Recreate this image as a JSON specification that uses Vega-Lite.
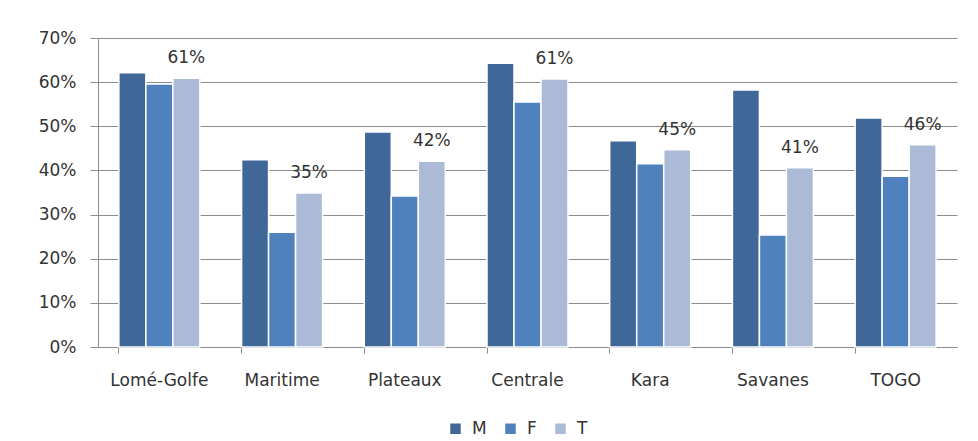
{
  "$schema": "https://vega.github.io/schema/vega-lite/v6.json",
  "autosize": {"type": "none"},
  "width": 859,
  "height": 309,
  "padding": {"left": 98, "top": 38, "right": 21, "bottom": 94},
  "background": "white",
  "config": {
    "font": "DejaVu Sans",
    "view": {"stroke": null},
    "axis": {"labelFont": "DejaVu Sans", "labelFontSize": 17, "labelColor": "#333333", "labelOverlap": false}
  },
  "data": {
    "values": [
      {"region": "Lomé-Golfe", "sex": "M", "value": 0.621},
      {"region": "Lomé-Golfe", "sex": "F", "value": 0.596},
      {"region": "Lomé-Golfe", "sex": "T", "value": 0.609},
      {"region": "Maritime", "sex": "M", "value": 0.424},
      {"region": "Maritime", "sex": "F", "value": 0.26},
      {"region": "Maritime", "sex": "T", "value": 0.349},
      {"region": "Plateaux", "sex": "M", "value": 0.487},
      {"region": "Plateaux", "sex": "F", "value": 0.342},
      {"region": "Plateaux", "sex": "T", "value": 0.421},
      {"region": "Centrale", "sex": "M", "value": 0.643},
      {"region": "Centrale", "sex": "F", "value": 0.555},
      {"region": "Centrale", "sex": "T", "value": 0.607},
      {"region": "Kara", "sex": "M", "value": 0.467},
      {"region": "Kara", "sex": "F", "value": 0.415},
      {"region": "Kara", "sex": "T", "value": 0.447},
      {"region": "Savanes", "sex": "M", "value": 0.582},
      {"region": "Savanes", "sex": "F", "value": 0.254},
      {"region": "Savanes", "sex": "T", "value": 0.406},
      {"region": "TOGO", "sex": "M", "value": 0.519},
      {"region": "TOGO", "sex": "F", "value": 0.387},
      {"region": "TOGO", "sex": "T", "value": 0.458}
    ]
  },
  "encoding": {
    "x": {
      "field": "region", "type": "nominal", "sort": null, "title": null,
      "scale": {"paddingInner": 0.34, "paddingOuter": 0.17},
      "axis": {"labelAngle": 0, "bandPosition": 0, "tickSize": 6, "tickColor": "#8c8c8c", "domainColor": "#8c8c8c", "labelPadding": 19, "grid": false}
    },
    "xOffset": {"field": "sex", "type": "nominal", "scale": {"domain": ["M", "F", "T"], "paddingInner": 0}},
    "y": {
      "field": "value", "type": "quantitative", "title": null,
      "scale": {"domain": [0, 0.7], "nice": false},
      "axis": {"format": ".0%", "values": [0, 0.1, 0.2, 0.3, 0.4, 0.5, 0.6, 0.7], "tickSize": 8, "tickColor": "#8c8c8c", "domainColor": "#8c8c8c", "gridColor": "#8c8c8c", "gridOpacity": 1, "labelPadding": 14}
    }
  },
  "layer": [
    {
      "mark": {"type": "bar", "stroke": "white", "strokeWidth": 1.5},
      "encoding": {
        "color": {
          "field": "sex", "type": "nominal", "title": null,
          "scale": {"domain": ["M", "F", "T"], "range": ["#3F6899", "#4F81BD", "#AABAD7"]},
          "legend": {"orient": "none", "legendX": 349, "legendY": 382, "padding": 0, "direction": "horizontal", "symbolType": "square", "symbolSize": 110, "symbolStrokeWidth": 0, "labelFontSize": 17, "labelColor": "#333333", "labelFont": "DejaVu Sans", "columnPadding": 15, "labelOffset": 8}
        }
      }
    },
    {
      "transform": [{"filter": "datum.sex === 'T'"}],
      "mark": {"type": "text", "baseline": "alphabetic", "dy": -15, "fontSize": 17, "font": "DejaVu Sans", "color": "#333333"},
      "encoding": {
        "text": {"field": "value", "type": "quantitative", "format": ".0%"}
      }
    }
  ]
}
